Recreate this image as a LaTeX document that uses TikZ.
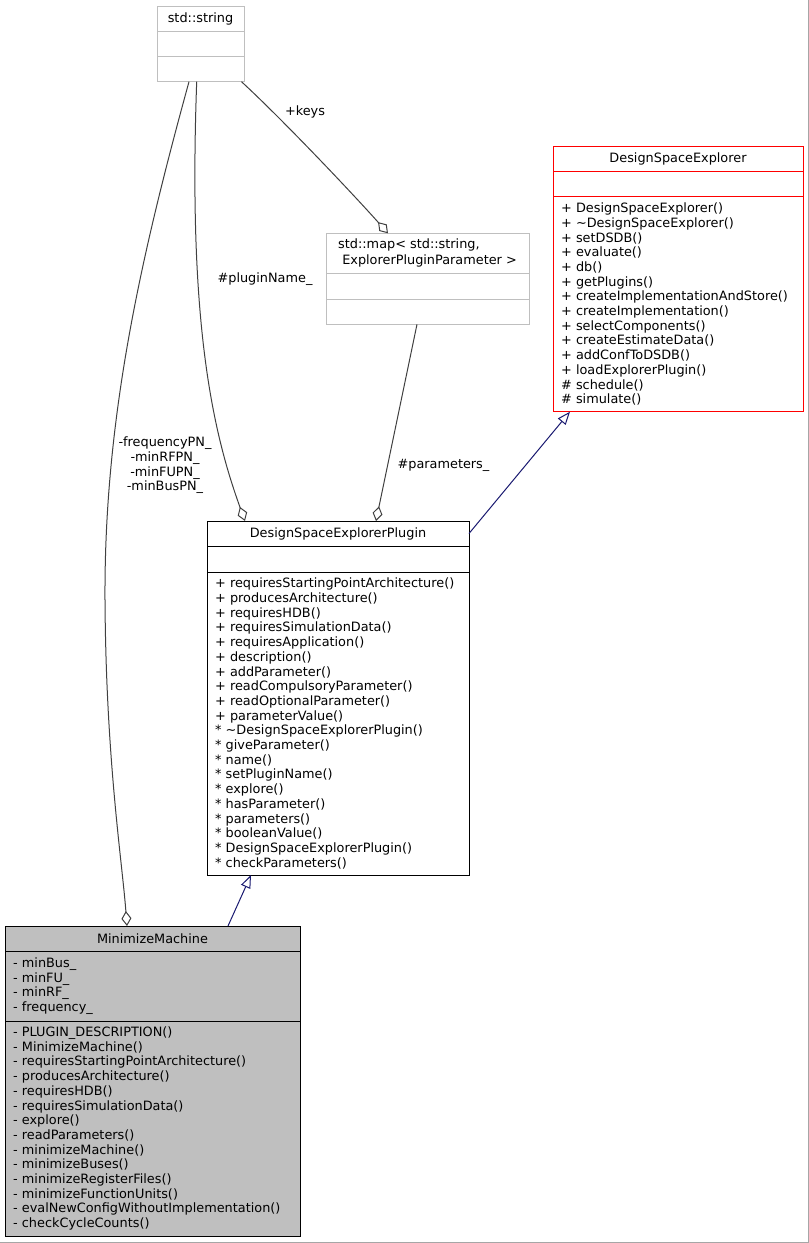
\documentclass[tikz,border=0pt]{standalone}
\usepackage{fontspec}
\setmainfont{DejaVu Sans}
\usetikzlibrary{arrows.meta}
\usetikzlibrary{positioning}
\definecolor{grey75}{HTML}{BFBFBF}
\definecolor{grey25}{HTML}{404040}
\definecolor{midnightblue}{HTML}{191970}
\begin{document}
\begin{tikzpicture}[x=1pt, y=-1pt, font=\fontsize{12.85}{14.7}\selectfont,
  head/.style={draw, anchor=north west, inner sep=0pt, outer sep=0pt, minimum width=#1, align=center, line width=.8pt},
  part/.style={draw, inner xsep=8pt, inner ysep=0pt, outer sep=0pt, text width=#1-16, align=left, line width=.8pt},
  agg/.style={draw=grey25, line width=1pt, -{Diamond[open, length=15pt, width=10pt]}},
  inh/.style={draw=midnightblue, line width=1pt, -{Triangle[open, length=13pt, width=10pt]}}]
\useasboundingbox (0,0) rectangle (809,1243);
\draw[gray!70] (808.5,0) -- (808.5,1242.5) -- (0,1242.5);

% std::string
\node[head=87, minimum height=25.7, draw=grey75] (str) at (157,6) {std::string};
\node[part=87, minimum height=25, draw=grey75, below=0pt of str] (str-a) {};
\node[part=87, minimum height=25, draw=grey75, below=0pt of str-a] (str-m) {};

% std::map
\node[head=203, minimum height=40, draw=grey75, align=left] (map) at (326,233.3)
  {std::map< std::string,\\[1.3pt]\mbox{ }ExplorerPluginParameter >};
\node[part=203, minimum height=26, draw=grey75, below=0pt of map] (map-a) {};
\node[part=203, minimum height=25, draw=grey75, below=0pt of map-a] (map-m) {};

% DesignSpaceExplorer
\node[head=250, minimum height=25.7, draw=red] (dse) at (553,146) {DesignSpaceExplorer};
\node[part=250, minimum height=25, draw=red, below=0pt of dse] (dse-a) {};
\node[part=250, minimum height=215, draw=red, below=0pt of dse-a] (dse-m) {%
+ DesignSpaceExplorer()\\
+ \textasciitilde DesignSpaceExplorer()\\
+ setDSDB()\\
+ evaluate()\\
+ db()\\
+ getPlugins()\\
+ createImplementationAndStore()\\
+ createImplementation()\\
+ selectComponents()\\
+ createEstimateData()\\
+ addConfToDSDB()\\
+ loadExplorerPlugin()\\
\# schedule()\\
\# simulate()};

% DesignSpaceExplorerPlugin
\node[head=262, minimum height=25] (plg) at (207,521) {DesignSpaceExplorerPlugin};
\node[part=262, minimum height=26, below=0pt of plg] (plg-a) {};
\node[part=262, minimum height=303, below=0pt of plg-a] (plg-m) {%
+ requiresStartingPointArchitecture()\\
+ producesArchitecture()\\
+ requiresHDB()\\
+ requiresSimulationData()\\
+ requiresApplication()\\
+ description()\\
+ addParameter()\\
+ readCompulsoryParameter()\\
+ readOptionalParameter()\\
+ parameterValue()\\
{*} \textasciitilde DesignSpaceExplorerPlugin()\\
{*} giveParameter()\\
{*} name()\\
{*} setPluginName()\\
{*} explore()\\
{*} hasParameter()\\
{*} parameters()\\
{*} booleanValue()\\
{*} DesignSpaceExplorerPlugin()\\
{*} checkParameters()};

% MinimizeMachine
\node[head=295, minimum height=25, fill=grey75] (mm) at (5,926) {MinimizeMachine};
\node[part=295, minimum height=70, fill=grey75, below=0pt of mm] (mm-a) {%
- minBus\_\\
- minFU\_\\
- minRF\_\\
- frequency\_};
\node[part=295, minimum height=215, fill=grey75, below=0pt of mm-a] (mm-m) {%
- PLUGIN\_DESCRIPTION()\\
- MinimizeMachine()\\
- requiresStartingPointArchitecture()\\
- producesArchitecture()\\
- requiresHDB()\\
- requiresSimulationData()\\
- explore()\\
- readParameters()\\
- minimizeMachine()\\
- minimizeBuses()\\
- minimizeRegisterFiles()\\
- minimizeFunctionUnits()\\
- evalNewConfigWithoutImplementation()\\
- checkCycleCounts()};

% connectors
\draw[agg] ([xshift=-11.5pt]str-m.south) .. controls (140,260) and (104,420) .. (105,600)
  .. controls (106,760) and (122,860) .. ([xshift=-25.5pt]mm.north);
\draw[agg] ([xshift=-3.8pt]str-m.south) .. controls (188,320) and (212,430) .. ([xshift=-93pt]plg.north);
\draw[agg] ([xshift=41pt]str-m.south) .. controls (282,119) and (353,194) .. ([xshift=-39.5pt]map.north);
\draw[agg] ([xshift=-10.5pt]map-m.south) -- ([xshift=38pt]plg.north);
\draw[inh] (plg.east) -- ([xshift=-108pt]dse-m.south);
\draw[inh] ([xshift=75.5pt]mm.north) -- ([xshift=-87pt]plg-m.south);

% labels
\node (l-keys) at (305,112) {+keys};
\node (l-name) at (265,279) {\#pluginName\_};
\node (l-par) at (443.5,465.5) {\#parameters\_};
\node[align=center] (l-pn) at (165,465.5) {-frequencyPN\_\\-minRFPN\_\\-minFUPN\_\\-minBusPN\_};
\end{tikzpicture}
\end{document}
